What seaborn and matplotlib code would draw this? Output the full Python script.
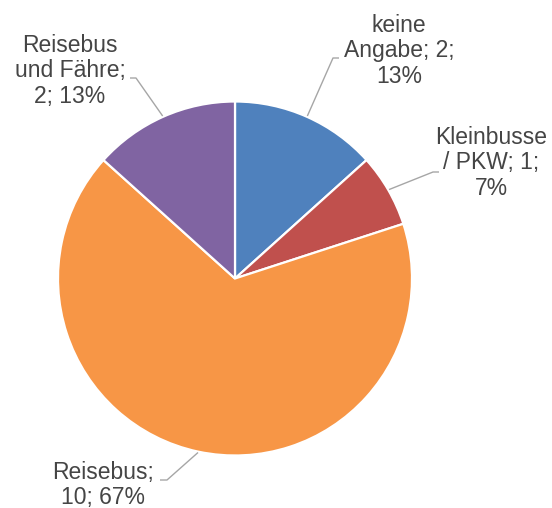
import textwrap
import numpy as np
import matplotlib
matplotlib.use("Agg")
import matplotlib.pyplot as plt
import seaborn as sns

# Verkehrsmittel der Anreise
categories = ["keine Angabe", "Kleinbusse / PKW", "Reisebus", "Reisebus und Fähre"]
values = [2, 1, 10, 2]
colors = ["#4F81BD", "#C0504D", "#F79646", "#8064A2"]
wrap_widths = [10, 10, 10, 10]

sns.set_theme(style="white")
plt.rcParams["font.family"] = ["Liberation Sans", "DejaVu Sans"]

W, H = 552, 508
fig = plt.figure(figsize=(W / 100, H / 100), dpi=100)
ax = fig.add_axes([0, 0, 1, 1])

# pixel layout of the pie
cx, cy, r_px = 235, 278.5, 177


def px(x, y):
    return ((x - cx) / r_px, (cy - y) / r_px)


wedges, _ = ax.pie(values, colors=colors, startangle=90, counterclock=False,
                   radius=1, center=(0, 0),
                   wedgeprops=dict(edgecolor="white", linewidth=1.6))
ax.set_xlim(-cx / r_px, (W - cx) / r_px)
ax.set_ylim(-(H - cy) / r_px, cy / r_px)
ax.set_aspect("equal")
ax.axis("off")

total = sum(values)
# label centre and leader elbow (text end, elbow) in pixels
label_pos = [(399, 51), (491, 163), (103, 485), (70, 71)]
elbows = [((339, 58), (333, 58)), ((439, 172), (433, 172)),
          ((160, 480), (167, 480)), ((130, 78), (136, 78))]

for w, cat, v, ww, (lx, ly), (e0, e1) in zip(wedges, categories, values,
                                             wrap_widths, label_pos, elbows):
    pct = round(v / total * 100)
    text = textwrap.fill(f"{cat}; {v}; {pct}%", width=ww)
    tx, ty = px(lx, ly)
    ax.text(tx, ty, text, ha="center", va="center", fontsize=16.5,
            color="#454545", linespacing=1.14, multialignment="center")
    mid = np.deg2rad((w.theta1 + w.theta2) / 2)
    rim = (np.cos(mid) * 1.005, np.sin(mid) * 1.005)
    a = px(*e0)
    b = px(*e1)
    ax.plot([a[0], b[0], rim[0]], [a[1], b[1], rim[1]],
            color="#A6A6A6", lw=1.0, solid_capstyle="butt")

fig.savefig("out.png", dpi=100, facecolor="white")
